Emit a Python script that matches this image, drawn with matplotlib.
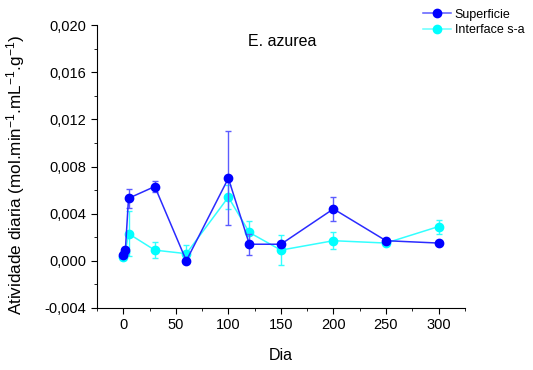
import matplotlib
matplotlib.use("Agg")
import matplotlib.pyplot as plt
import matplotlib.ticker as mticker
from matplotlib.lines import Line2D

plt.rcParams["font.family"] = ["Liberation Sans", "DejaVu Sans"]
plt.rcParams["mathtext.default"] = "regular"

# data
dias = [0, 2, 5, 30, 60, 100, 120, 150, 200, 250, 300]
superficie = [0.0005, 0.0009, 0.0053, 0.0063, 0.0000, 0.0070, 0.0014, 0.0014, 0.0044, 0.0017, 0.0015]
superficie_err = [0.0002, 0.0003, 0.0008, 0.0005, 0.0001, 0.0040, 0.0009, 0.0002, 0.0010, 0.0001, 0.0001]
interface = [0.0003, 0.0007, 0.0023, 0.0009, 0.0006, 0.0054, 0.0024, 0.0009, 0.0017, 0.0015, 0.0029]
interface_err = [0.0002, 0.0003, 0.0019, 0.0007, 0.0007, 0.0010, 0.0010, 0.0013, 0.0007, 0.0001, 0.0006]

x_ticks = [0, 50, 100, 150, 200, 250, 300]
y_ticks = [-0.004, 0.000, 0.004, 0.008, 0.012, 0.016, 0.020]

fig = plt.figure(figsize=(5.33, 3.70), dpi=100)
ax = fig.add_axes([0.182, 0.168, 0.690, 0.764])

ax.errorbar(dias, superficie, yerr=superficie_err, color="#2b2bff", lw=1.1,
            marker="o", ms=6, mfc="#0000ff", mec="#0000ff",
            ecolor="#5c5cff", elinewidth=1.0, capsize=2.5, capthick=1.0,
            zorder=3)
ax.errorbar(dias, interface, yerr=interface_err, color="#33ffff", lw=1.1,
            marker="o", ms=6, mfc="#00ffff", mec="#00ffff",
            ecolor="#33ffff", elinewidth=1.0, capsize=2.5, capthick=1.0,
            zorder=2)

ax.set_xlim(-25, 325)
ax.set_ylim(-0.004, 0.020)
ax.set_xticks(x_ticks)
ax.set_yticks(y_ticks)
ax.xaxis.set_minor_locator(mticker.MultipleLocator(25))
ax.yaxis.set_minor_locator(mticker.MultipleLocator(0.002))
ax.yaxis.set_major_formatter(mticker.FuncFormatter(lambda v, p: f"{v:.3f}".replace(".", ",")))

for s in ["top", "right"]:
    ax.spines[s].set_visible(False)
ax.tick_params(which="major", direction="out", length=4, labelsize=10.5, colors="black")
ax.tick_params(which="minor", direction="out", length=2.5)

ax.set_xlabel("Dia", fontsize=11.5, labelpad=11)
ax.set_ylabel("Atividade diaria (mol.min$^{-1}$.mL$^{-1}$.g$^{-1}$)", fontsize=12.3)
ax.yaxis.set_label_coords(-0.19, 0.47)

ax.text(0.41, 0.925, "E. azurea", transform=ax.transAxes, fontsize=11.5)

handles = [
    Line2D([], [], color="#5c5cff", lw=1.1, marker="o", ms=6, mfc="#0000ff", mec="#0000ff"),
    Line2D([], [], color="#66ffff", lw=1.1, marker="o", ms=6, mfc="#00ffff", mec="#00ffff"),
]
fig.legend(handles, ["Superficie", "Interface s-a"], loc="upper right",
           bbox_to_anchor=(1.0, 1.0), frameon=False,
           fontsize=9, handlelength=2.2, handletextpad=0.3, labelspacing=0.25,
           borderaxespad=0.3)

fig.savefig("out.png", dpi=100)
